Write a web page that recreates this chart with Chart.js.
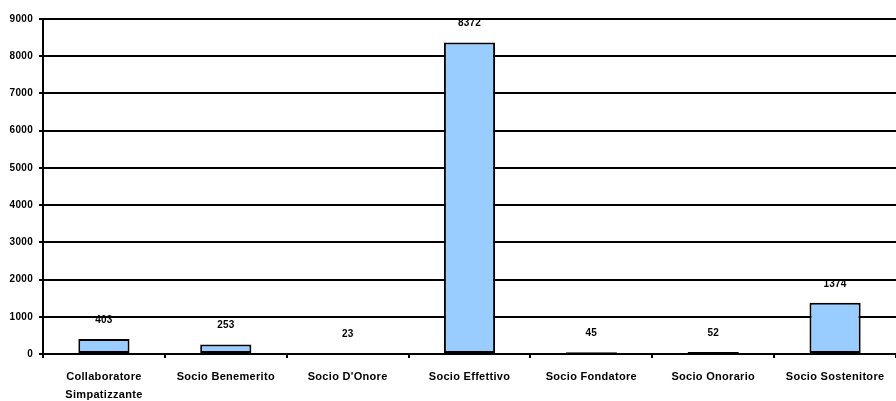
<!DOCTYPE html>
<html>
<head>
<meta charset="utf-8">
<script src="https://cdn.jsdelivr.net/npm/chart.js@4"></script>
<style>
  html, body { margin: 0; padding: 0; background: #fff; }
  #wrap { width: 896px; height: 401px; }
</style>
</head>
<body>
<div id="wrap"><canvas id="grafico"></canvas></div>
<script>
// dati
const categorie = [
  ['Collaboratore', 'Simpatizzante'],
  'Socio Benemerito',
  "Socio D'Onore",
  'Socio Effettivo',
  'Socio Fondatore',
  'Socio Onorario',
  'Socio Sostenitore'
];
const valori = [403, 253, 23, 8372, 45, 52, 1374];
const tickY = [0, 1000, 2000, 3000, 4000, 5000, 6000, 7000, 8000, 9000];

const FONT = "'Liberation Sans', Arial, sans-serif";

// spaziatura lettere come nel grafico originale
const spaziatura = {
  id: 'spaziatura',
  beforeDraw(chart) { chart.ctx.letterSpacing = '0.3px'; }
};

// etichette sopra le barre
const etichetteValori = {
  id: 'etichetteValori',
  afterDatasetsDraw(chart) {
    const ctx = chart.ctx;
    const meta = chart.getDatasetMeta(0);
    ctx.save();
    ctx.letterSpacing = '0.2px';
    ctx.font = 'bold 10px ' + FONT;
    ctx.fillStyle = '#000';
    ctx.textAlign = 'center';
    ctx.textBaseline = 'middle';
    meta.data.forEach((bar, i) => {
      ctx.fillText(String(valori[i]), bar.x, bar.y - 19);
    });
    ctx.restore();
  }
};

new Chart(document.getElementById('grafico'), {
  type: 'bar',
  data: {
    labels: categorie,
    datasets: [{
      data: valori,
      backgroundColor: '#99CCFF',
      borderColor: '#000',
      borderWidth: 2,
      borderSkipped: false,
      barPercentage: 0.42,
      categoryPercentage: 1
    }]
  },
  options: {
    responsive: true,
    maintainAspectRatio: false,
    animation: false,
    layout: { padding: { top: 19, right: 0, left: 0, bottom: 0 } },
    plugins: { legend: { display: false }, tooltip: { enabled: false } },
    scales: {
      x: {
        afterFit(s) { s.height = 47; },
        grid: { offset: true, drawOnChartArea: false, color: '#000', lineWidth: 2, tickLength: 4 },
        border: { color: '#000', width: 2 },
        ticks: {
          color: '#000',
          font: { family: FONT, size: 11, weight: 'bold', lineHeight: 1.65 },
          padding: 10,
          maxRotation: 0,
          autoSkip: false
        }
      },
      y: {
        min: 0,
        max: 9000,
        afterFit(s) { s.width = 43; },
        afterBuildTicks(s) { s.ticks = tickY.map(v => ({ value: v })); },
        grid: { color: '#000', lineWidth: 2, tickLength: 4 },
        border: { color: '#000', width: 2 },
        ticks: {
          color: '#000',
          font: { family: FONT, size: 10, weight: 'bold' },
          padding: 6,
          callback: v => String(v)
        }
      }
    }
  },
  plugins: [spaziatura, etichetteValori]
});
</script>
</body>
</html>
